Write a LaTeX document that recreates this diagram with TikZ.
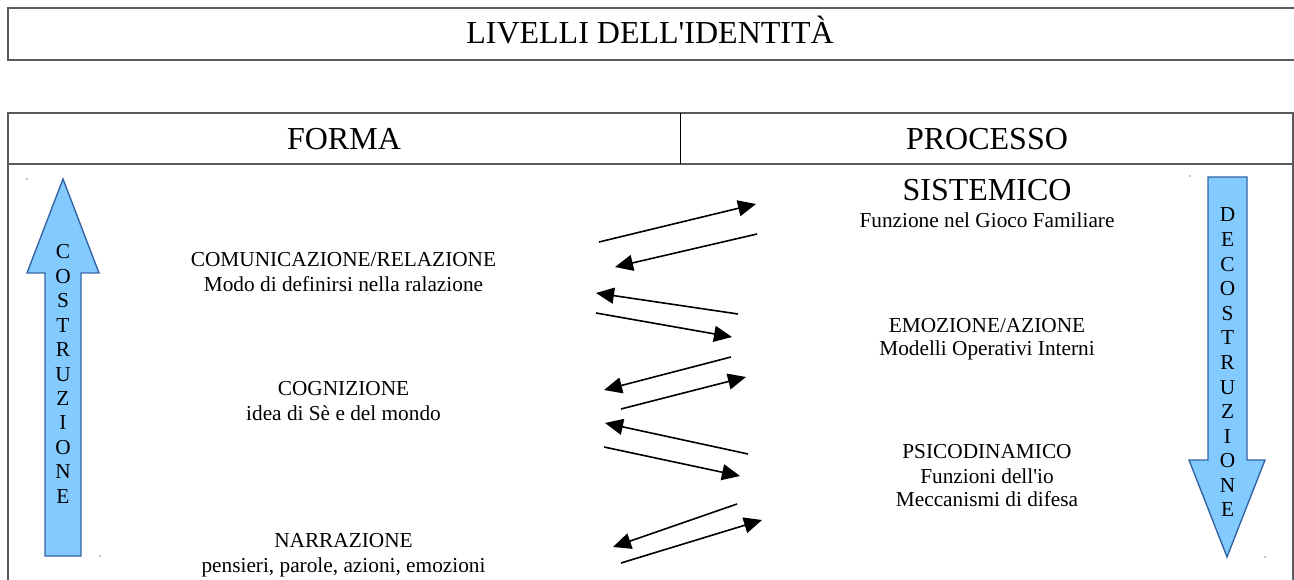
\documentclass[tikz,border=0pt]{standalone}
\usepackage{fontspec}
\setmainfont{Liberation Serif}
\usetikzlibrary{arrows.meta}
\definecolor{arrfill}{RGB}{131,202,255}
\definecolor{arrdraw}{RGB}{52,101,164}
\definecolor{frame}{RGB}{90,90,90}
\tikzset{
  big/.style={font=\fontsize{32}{38}\selectfont, inner sep=0pt, anchor=base},
  txt/.style={font=\fontsize{21.3}{25}\selectfont, inner sep=0pt, anchor=base},
  letter/.style={font=\fontsize{21.3}{25}\selectfont, inner sep=0pt, anchor=base},
  frameline/.style={draw=frame, line width=1.2pt},
  bigarrow/.style={fill=arrfill, draw=arrdraw, line width=1.4pt, line join=miter},
  link/.style={line width=1.6pt, -{Triangle[length=18pt,width=16pt]}},
  speck/.style={fill=arrdraw!70, draw=none},
}
\begin{document}
\begin{tikzpicture}[x=1pt,y=-1pt]
\useasboundingbox (0,0) rectangle (1294,580);
% frames
\draw[frameline] (8,8) rectangle (1300,60);
\draw[frameline] (8,600) -- (8,113) -- (1293,113) -- (1293,600);
\draw[frameline] (8,164) -- (1293,164);
\draw[frameline, line width=1pt, draw=black] (680,113) -- (680,164);
% headings
\node[big] (title) at (650,44) {LIVELLI DELL\textquotesingle IDENTITÀ};
\node[big] (forma) at (344,150) {FORMA};
\node[big] (processo) at (987,150) {PROCESSO};
% left column
\node[txt] (com1) at (343.5,267) {COMUNICAZIONE/RELAZIONE};
\node[txt] (com2) at (343.5,292) {Modo di definirsi nella ralazione};
\node[txt] (cog1) at (343.5,395) {COGNIZIONE};
\node[txt] (cog2) at (343.5,420) {idea di Sè e del mondo};
\node[txt] (nar1) at (343.5,547) {NARRAZIONE};
\node[txt] (nar2) at (343.5,572) {pensieri, parole, azioni, emozioni};
% right column
\node[big] (sis1) at (987,201) {SISTEMICO};
\node[txt] (sis2) at (987,228) {Funzione nel Gioco Familiare};
\node[txt] (emo1) at (987,333) {EMOZIONE/AZIONE};
\node[txt] (emo2) at (987,355) {Modelli Operativi Interni};
\node[txt] (psi1) at (987,458) {PSICODINAMICO};
\node[txt] (psi2) at (987,483) {Funzioni dell\textquotesingle io};
\node[txt] (psi3) at (987,506) {Meccanismi di difesa};
% big arrows
\draw[bigarrow] (63,179) -- (99,273) -- (81,273) -- (81,556) -- (45,556) -- (45,273) -- (27,273) -- cycle;
\draw[bigarrow] (1208,177) -- (1247,177) -- (1247,460) -- (1265,460) -- (1227,557) -- (1189,460) -- (1208,460) -- cycle;
\foreach \l [count=\i from 0] in {C,O,S,T,R,U,Z,I,O,N,E}
  \node[letter] (cl\i) at (63,259+24.4*\i) {\l};
\foreach \l [count=\i from 0] in {D,E,C,O,S,T,R,U,Z,I,O,N,E}
  \node[letter] (dl\i) at (1227.5,222+24.58*\i) {\l};
% specks
\fill[speck] (27,179) circle (0.8);
\fill[speck] (100,556) circle (0.8);
\fill[speck] (1190,176) circle (0.8);
\fill[speck] (1265,557) circle (0.8);
% middle arrows
\coordinate (a1s) at (599,242); \coordinate (a1e) at (756,204);
\coordinate (b1s) at (757,234); \coordinate (b1e) at (615,267);
\coordinate (a2s) at (738,314); \coordinate (a2e) at (596,293);
\coordinate (b2s) at (596,313); \coordinate (b2e) at (732,337);
\coordinate (a3s) at (731,357); \coordinate (a3e) at (604,390);
\coordinate (b3s) at (621,409); \coordinate (b3e) at (746,377);
\coordinate (a4s) at (748,454); \coordinate (a4e) at (605,423);
\coordinate (b4s) at (604,447); \coordinate (b4e) at (740,476);
\coordinate (a5s) at (737,504); \coordinate (a5e) at (613,547);
\coordinate (b5s) at (621,563); \coordinate (b5e) at (762,520);
\foreach \p in {a1,b1,a2,b2,a3,b3,a4,b4,a5,b5}
  \draw[link] (\p s) -- (\p e);
\end{tikzpicture}
\end{document}
